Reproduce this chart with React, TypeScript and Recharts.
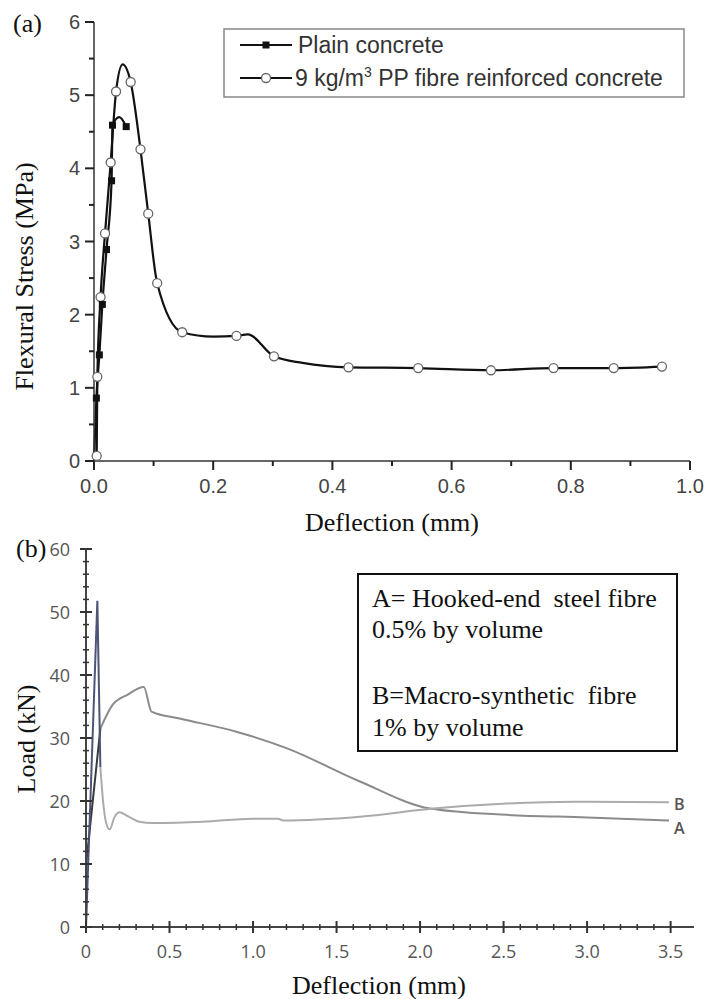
import React from 'react';
import { LineChart, Line, XAxis, YAxis, Label } from 'recharts';

// (a) flexural stress vs deflection
const plainX = [0, 0.004, 0.009, 0.014, 0.021, 0.0295, 0.031, 0.0425, 0.054];
const plainY = [0, 0.86, 1.45, 2.14, 2.89, 3.83, 4.59, 4.7, 4.57];
const plainMark = [0, 1, 1, 1, 1, 1, 1, 0, 1];

const ppX = [0.0045, 0.0056, 0.011, 0.0185, 0.028, 0.037, 0.048, 0.0615, 0.078, 0.091, 0.106, 0.148, 0.2, 0.239, 0.258, 0.302, 0.35, 0.427, 0.544, 0.666, 0.771, 0.872, 0.953];
const ppY = [0.07, 1.15, 2.24, 3.11, 4.08, 5.05, 5.42, 5.18, 4.26, 3.38, 2.43, 1.76, 1.7, 1.71, 1.73, 1.43, 1.34, 1.28, 1.27, 1.24, 1.27, 1.27, 1.29];
const ppMark = [1, 1, 1, 1, 1, 1, 0, 1, 1, 1, 1, 1, 0, 1, 0, 1, 0, 1, 1, 1, 1, 1, 1];

// (b) load vs deflection
const aRiseX = [0, 0.003, 0.086];
const aRiseY = [0, 10.5, 31.5];
const aX = [0.086, 0.16, 0.25, 0.346, 0.392, 0.56, 0.9, 1.2, 1.64, 2.06, 2.52, 3.0, 3.49];
const aY = [31.5, 35.3, 36.9, 38.1, 34.2, 33.1, 31.0, 28.4, 23.1, 18.8, 17.8, 17.4, 16.9];
const bSpikeX = [0, 0.068, 0.086];
const bSpikeY = [0, 51.8, 25.4];
const bX = [0.086, 0.102, 0.12, 0.142, 0.17, 0.2, 0.25, 0.32, 0.4, 0.7, 1.0, 1.15, 1.18, 1.64, 2.08, 2.52, 2.92, 3.49];
const bY = [25.4, 20.0, 16.6, 15.5, 17.4, 18.2, 17.6, 16.7, 16.5, 16.7, 17.2, 17.2, 16.9, 17.5, 18.8, 19.6, 19.9, 19.8];

const topXMajor = [0, 0.2, 0.4, 0.6, 0.8, 1.0];
const topYMajor = [0, 1, 2, 3, 4, 5, 6];
const botXMajor = [0, 0.5, 1.0, 1.5, 2.0, 2.5, 3.0, 3.5];
const botYMajor = [0, 10, 20, 30, 40, 50, 60];

// majors plus the minor marks between them
function withMinor(major: number[], parts: number) {
  const out: number[] = [];
  major.forEach((v, i) => {
    out.push(v);
    if (i < major.length - 1) {
      const step = (major[i + 1] - v) / parts;
      for (let k = 1; k < parts; k++) out.push(+(v + k * step).toFixed(4));
    }
  });
  return out;
}
const isMajor = (major: number[], v: number) => major.some(m => Math.abs(m - v) < 1e-6);
const pts = (xs: number[], ys: number[]) => xs.map((x, i) => ({ x, y: ys[i] }));

const serif = '"Liberation Serif", "Times New Roman", serif';
const sans = '"Liberation Sans", Arial, sans-serif';
const myriad = '"Open Sans", "Noto Sans", sans-serif';

const topAxis = { stroke: '#333', strokeWidth: 1.5 };
const botAxis = { stroke: '#444', strokeWidth: 2 };

// tickSize/tickMargin are 0, so x/y handed to these are the axis position itself
const topXTick = ({ x, y, payload }: any) => {
  const major = isMajor(topXMajor, payload.value);
  return (
    <g>
      <rect x={x - 1} y={y} width={2} height={major ? 9 : 5} fill="#222" />
      {major && (
        <text x={x} y={y + 32} textAnchor="middle" fontFamily={sans} fontSize={20} fill="#444">
          {payload.value.toFixed(1)}
        </text>
      )}
    </g>
  );
};
const topYTick = ({ x, y, payload }: any) => {
  const major = isMajor(topYMajor, payload.value);
  const len = major ? 9 : 5;
  return (
    <g>
      <rect x={x - len} y={y - 1} width={len} height={2} fill="#222" />
      {major && (
        <text x={x - 14} y={y + 7} textAnchor="end" fontFamily={sans} fontSize={20} fill="#444">
          {payload.value}
        </text>
      )}
    </g>
  );
};
const botXTick = ({ x, y, payload }: any) => {
  const major = isMajor(botXMajor, payload.value);
  const h = major ? 6 : 3;
  const w = major ? 2 : 1.5;
  return (
    <g>
      <rect x={x - w / 2} y={y - h} width={w} height={2 * h} fill="#333" />
      {major && (
        <text x={x} y={y + 31} textAnchor="middle" fontFamily={myriad} fontSize={18} fill="#555">
          {payload.value === 0 ? '0' : payload.value.toFixed(1)}
        </text>
      )}
    </g>
  );
};
const botYTick = ({ x, y, payload }: any) => {
  const major = isMajor(botYMajor, payload.value);
  const h = major ? 6 : 3;
  const w = major ? 2 : 1.5;
  return (
    <g>
      <rect x={x - h} y={y - w / 2} width={2 * h} height={w} fill="#333" />
      {major && (
        <text x={x - 16} y={y + 6.5} textAnchor="end" fontFamily={myriad} fontSize={18} fill="#555">
          {payload.value}
        </text>
      )}
    </g>
  );
};

const squareDot = (p: any) => {
  const { cx, cy, index } = p;
  if (!plainMark[index]) return <g key={`s${index}`} />;
  return <rect key={`s${index}`} x={cx - 3.5} y={cy - 3.5} width={7} height={7} fill="#111" />;
};

const circleDot = (p: any) => {
  const { cx, cy, index } = p;
  if (!ppMark[index]) return <g key={`c${index}`} />;
  return <circle key={`c${index}`} cx={cx} cy={cy} r={4.5} fill="#fff" stroke="#666" strokeWidth={1.3} />;
};

const endLabel = (text: string, last: number, dy: number) => (p: any) =>
  p.index === last ? (
    <text key={text} x={p.x + 5} y={p.y + dy} fontFamily={myriad} fontSize={16} fontWeight={600} fill="#555">
      {text}
    </text>
  ) : null;

function TopChart() {
  return (
    <LineChart width={706} height={540} margin={{ top: 22, right: 16, bottom: 0, left: 0 }}>
      <XAxis xAxisId="x" dataKey="x" type="number" domain={[0, 1]} ticks={withMinor(topXMajor, 2)} interval={0}
        tickSize={0} tickMargin={0} tickLine={false} tick={topXTick} height={79} axisLine={topAxis}>
        <Label content={({ viewBox }: any) => (
          <text x={viewBox.x + viewBox.width / 2} y={viewBox.y + 70} textAnchor="middle" fontFamily={serif} fontSize={26} fill="#111">
            Deflection (mm)
          </text>
        )} />
      </XAxis>
      <XAxis xAxisId="t" orientation="top" type="number" domain={[0, 1]} height={0} tick={false} tickLine={false} axisLine={topAxis} />
      <YAxis yAxisId="y" type="number" domain={[0, 6]} ticks={withMinor(topYMajor, 2)} interval={0}
        tickSize={0} tickMargin={0} tickLine={false} tick={topYTick} width={94} axisLine={topAxis}>
        <Label content={({ viewBox }: any) => {
          const cx = viewBox.x + 33;
          const cy = viewBox.y + viewBox.height / 2 + 35;
          return (
            <text x={cx} y={cy} transform={`rotate(-90 ${cx} ${cy})`} textAnchor="middle" fontFamily={serif} fontSize={26} fill="#111">
              Flexural Stress (MPa)
            </text>
          );
        }} />
      </YAxis>
      <YAxis yAxisId="r" orientation="right" type="number" domain={[0, 6]} width={0} tick={false} tickLine={false} axisLine={topAxis} />
      <Line xAxisId="x" yAxisId="y" data={pts(ppX, ppY)} dataKey="y" type="monotone" stroke="#111" strokeWidth={2.2}
        dot={circleDot} activeDot={false} isAnimationActive={false} />
      <Line xAxisId="x" yAxisId="y" data={pts(plainX, plainY)} dataKey="y" type="monotone" stroke="#111" strokeWidth={2.2}
        dot={squareDot} activeDot={false} isAnimationActive={false} />
    </LineChart>
  );
}

function BottomChart() {
  return (
    <LineChart width={706} height={469} margin={{ top: 19, right: 12, bottom: 0, left: 0 }}>
      <XAxis xAxisId="x" dataKey="x" type="number" domain={[0, 3.64]} ticks={withMinor(botXMajor, 5)} interval={0}
        tickSize={0} tickMargin={0} tickLine={false} tick={botXTick} height={72} axisLine={botAxis}>
        <Label content={({ viewBox }: any) => (
          <text x={viewBox.x + viewBox.width / 2 - 11} y={viewBox.y + 67} textAnchor="middle" fontFamily={serif} fontSize={26} fill="#111">
            Deflection (mm)
          </text>
        )} />
      </XAxis>
      <XAxis xAxisId="t" orientation="top" type="number" domain={[0, 3.64]} height={0} tick={false} tickLine={false}
        axisLine={{ stroke: '#111', strokeWidth: 2 }} />
      <YAxis yAxisId="y" type="number" domain={[0, 60]} ticks={withMinor(botYMajor, 5)} interval={0}
        tickSize={0} tickMargin={0} tickLine={false} tick={botYTick} width={86} axisLine={botAxis}>
        <Label content={({ viewBox }: any) => {
          const cx = viewBox.x + 35;
          const cy = viewBox.y + viewBox.height / 2 + 1;
          return (
            <text x={cx} y={cy} transform={`rotate(-90 ${cx} ${cy})`} textAnchor="middle" fontFamily={serif} fontSize={26} fill="#111">
              Load (kN)
            </text>
          );
        }} />
      </YAxis>
      <YAxis yAxisId="r" orientation="right" type="number" domain={[0, 60]} width={0} tick={false} tickLine={false}
        axisLine={{ stroke: '#111', strokeWidth: 2 }} />
      <Line xAxisId="x" yAxisId="y" data={pts(aX, aY)} dataKey="y" type="monotone" stroke="#8b8b8b" strokeWidth={2}
        dot={false} activeDot={false} isAnimationActive={false} label={endLabel('A', aX.length - 1, 13)} />
      <Line xAxisId="x" yAxisId="y" data={pts(bX, bY)} dataKey="y" type="monotone" stroke="#ababab" strokeWidth={2}
        dot={false} activeDot={false} isAnimationActive={false} label={endLabel('B', bX.length - 1, 8)} />
      <Line xAxisId="x" yAxisId="y" data={pts(aRiseX, aRiseY)} dataKey="y" type="linear" stroke="#3a3a3a" strokeWidth={2}
        dot={false} activeDot={false} isAnimationActive={false} />
      <Line xAxisId="x" yAxisId="y" data={pts(bSpikeX, bSpikeY)} dataKey="y" type="linear" stroke="#4d5478" strokeWidth={2}
        dot={false} activeDot={false} isAnimationActive={false} />
    </LineChart>
  );
}

export default function App() {
  return (
    <div style={{ position: 'absolute', left: 0, top: 0, width: 706, height: 999, background: '#fff', overflow: 'hidden' }}>
      <div style={{ position: 'absolute', left: 0, top: 0 }}>
        <TopChart />
      </div>
      <div style={{ position: 'absolute', left: 0, top: 530 }}>
        <BottomChart />
      </div>
      <svg width={706} height={999} style={{ position: 'absolute', left: 0, top: 0, pointerEvents: 'none' }}>
        <text x={13} y={32} fontFamily={serif} fontSize={26} fill="#111">(a)</text>
        <text x={16} y={557} fontFamily={serif} fontSize={26} fill="#111">(b)</text>

        {/* legend of (a) */}
        <rect x={224} y={29} width={460} height={68} fill="#fff" stroke="#888" strokeWidth={1.5} />
        <line x1={240} x2={292} y1={45} y2={45} stroke="#111" strokeWidth={2.2} />
        <rect x={262.5} y={41.5} width={7} height={7} fill="#111" />
        <text x={298} y={53} fontFamily={sans} fontSize={23} fill="#333">Plain concrete</text>
        <line x1={240} x2={292} y1={78} y2={78} stroke="#111" strokeWidth={2.2} />
        <circle cx={266} cy={78} r={4.5} fill="#fff" stroke="#666" strokeWidth={1.3} />
        <text x={295} y={86} fontFamily={sans} fontSize={23} fill="#333">
          9 kg/m<tspan dy={-9} fontSize={14}>3</tspan><tspan dy={9}> PP fibre reinforced concrete</tspan>
        </text>

        {/* legend of (b) */}
        <rect x={358} y={574} width={319} height={177} fill="#fff" stroke="#111" strokeWidth={2} />
        <text x={372} y={607} fontFamily={serif} fontSize={26} fill="#111">{'A= Hooked-end\u00a0 steel fibre'}</text>
        <text x={372} y={638} fontFamily={serif} fontSize={26} fill="#111">0.5% by volume</text>
        <text x={372} y={704} fontFamily={serif} fontSize={26} fill="#111">{'B=Macro-synthetic\u00a0 fibre'}</text>
        <text x={372} y={736} fontFamily={serif} fontSize={26} fill="#111">1% by volume</text>
      </svg>
    </div>
  );
}
